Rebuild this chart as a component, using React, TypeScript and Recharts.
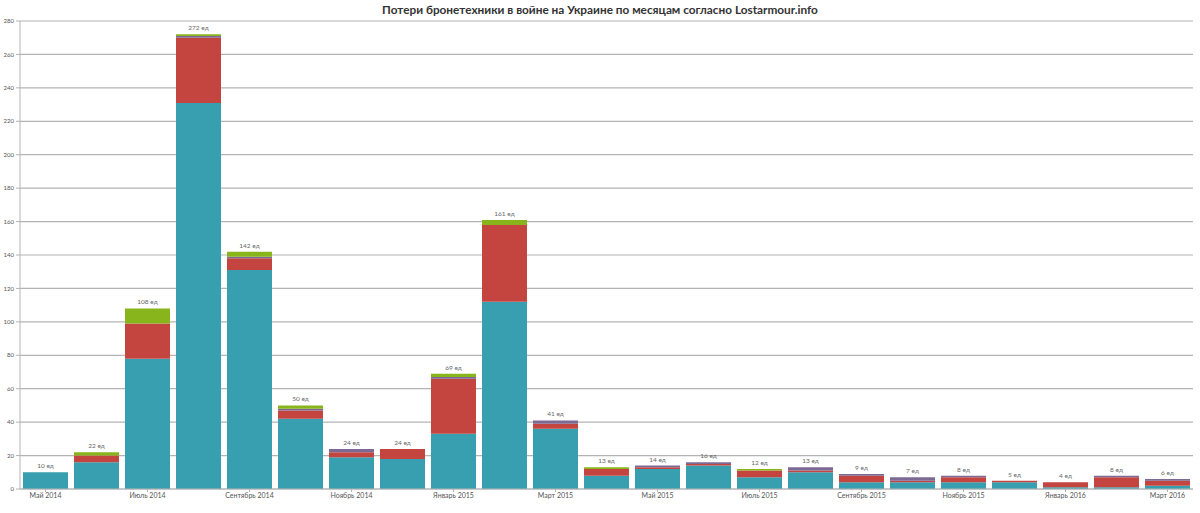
import { BarChart, Bar, XAxis, YAxis, CartesianGrid, LabelList } from "recharts";

const months = [
  "Май 2014", "Июнь 2014", "Июль 2014", "Август 2014", "Сентябрь 2014", "Октябрь 2014",
  "Ноябрь 2014", "Декабрь 2014", "Январь 2015", "Февраль 2015", "Март 2015", "Апрель 2015",
  "Май 2015", "Июнь 2015", "Июль 2015", "Август 2015", "Сентябрь 2015", "Октябрь 2015",
  "Ноябрь 2015", "Декабрь 2015", "Январь 2016", "Февраль 2016", "Март 2016",
];

// stacked parts, bottom to top
const teal = [10, 16, 78, 231, 131, 42, 19, 18, 33, 112, 36, 8, 12, 14, 7, 10, 4, 4, 4, 4, 1, 1, 2];
const red = [0, 4, 21, 39, 7, 5, 3, 6, 33, 46, 3, 4, 1, 1, 4, 1, 4, 1, 3, 1, 3, 6, 3];
const purple = [0, 0, 0, 1, 1, 1, 2, 0, 1, 0, 2, 0, 1, 1, 0, 2, 1, 2, 1, 0, 0, 1, 1];
const green = [0, 2, 9, 1, 3, 2, 0, 0, 2, 3, 0, 1, 0, 0, 1, 0, 0, 0, 0, 0, 0, 0, 0];
const totals = [10, 22, 108, 272, 142, 50, 24, 24, 69, 161, 41, 13, 14, 16, 12, 13, 9, 7, 8, 5, 4, 8, 6];

const yTicks = [0, 20, 40, 60, 80, 100, 120, 140, 160, 180, 200, 220, 240, 260, 280];

const data = months.map((m, i) => ({
  month: m,
  teal: teal[i],
  red: red[i],
  purple: purple[i],
  green: green[i],
  total: totals[i],
}));

const font = "Lato, 'Open Sans', 'DejaVu Sans', sans-serif";

// label sits over the whole stack: teal bar's own px/unit gives the stack top
function TotalLabel(props: any) {
  const { x, y, width, height, index } = props;
  const base = y + height;
  const top = base - totals[index] * (height / teal[index]);
  return (
    <text
      x={x + width / 2}
      y={top - 4}
      textAnchor="middle"
      fontSize={6.5}
      fill="#666"
      fontFamily={font}
    >
      {totals[index]} ед
    </text>
  );
}

export default function App() {
  return (
    <div style={{ position: "absolute", left: 0, top: 0, width: 1200, height: 513, background: "#fff", fontFamily: font }}>
      <div
        style={{
          position: "absolute",
          left: 0,
          top: 2,
          width: 1200,
          textAlign: "center",
          fontSize: 11.8,
          fontWeight: 700,
          color: "#333",
        }}
      >
        Потери бронетехники в войне на Украине по месяцам согласно Lostarmour.info
      </div>
      <BarChart
        width={1200}
        height={513}
        data={data}
        margin={{ top: 21, right: 7, bottom: 0, left: 0 }}
        barCategoryGap={3}
      >
        <CartesianGrid vertical={false} stroke="#b4b4b4" strokeWidth={1.2} />
        <YAxis
          width={20}
          domain={[0, 280]}
          ticks={yTicks}
          interval={0}
          tickSize={4}
          tickMargin={2}
          stroke="#b4b4b4"
          tick={{ fontSize: 6, fill: "#555", fontFamily: font }}
        />
        <XAxis
          dataKey="month"
          height={24}
          interval={1}
          tickSize={3}
          tickMargin={1}
          stroke="#b4b4b4"
          tick={{ fontSize: 7, fill: "#555", fontFamily: font }}
        />
        <Bar dataKey="teal" stackId="a" fill="#389FB0" isAnimationActive={false}>
          <LabelList dataKey="total" content={TotalLabel} />
        </Bar>
        <Bar dataKey="red" stackId="a" fill="#C4453F" isAnimationActive={false} />
        <Bar dataKey="purple" stackId="a" fill="#7C6A94" isAnimationActive={false} />
        <Bar dataKey="green" stackId="a" fill="#87B51B" isAnimationActive={false} />
      </BarChart>
    </div>
  );
}
